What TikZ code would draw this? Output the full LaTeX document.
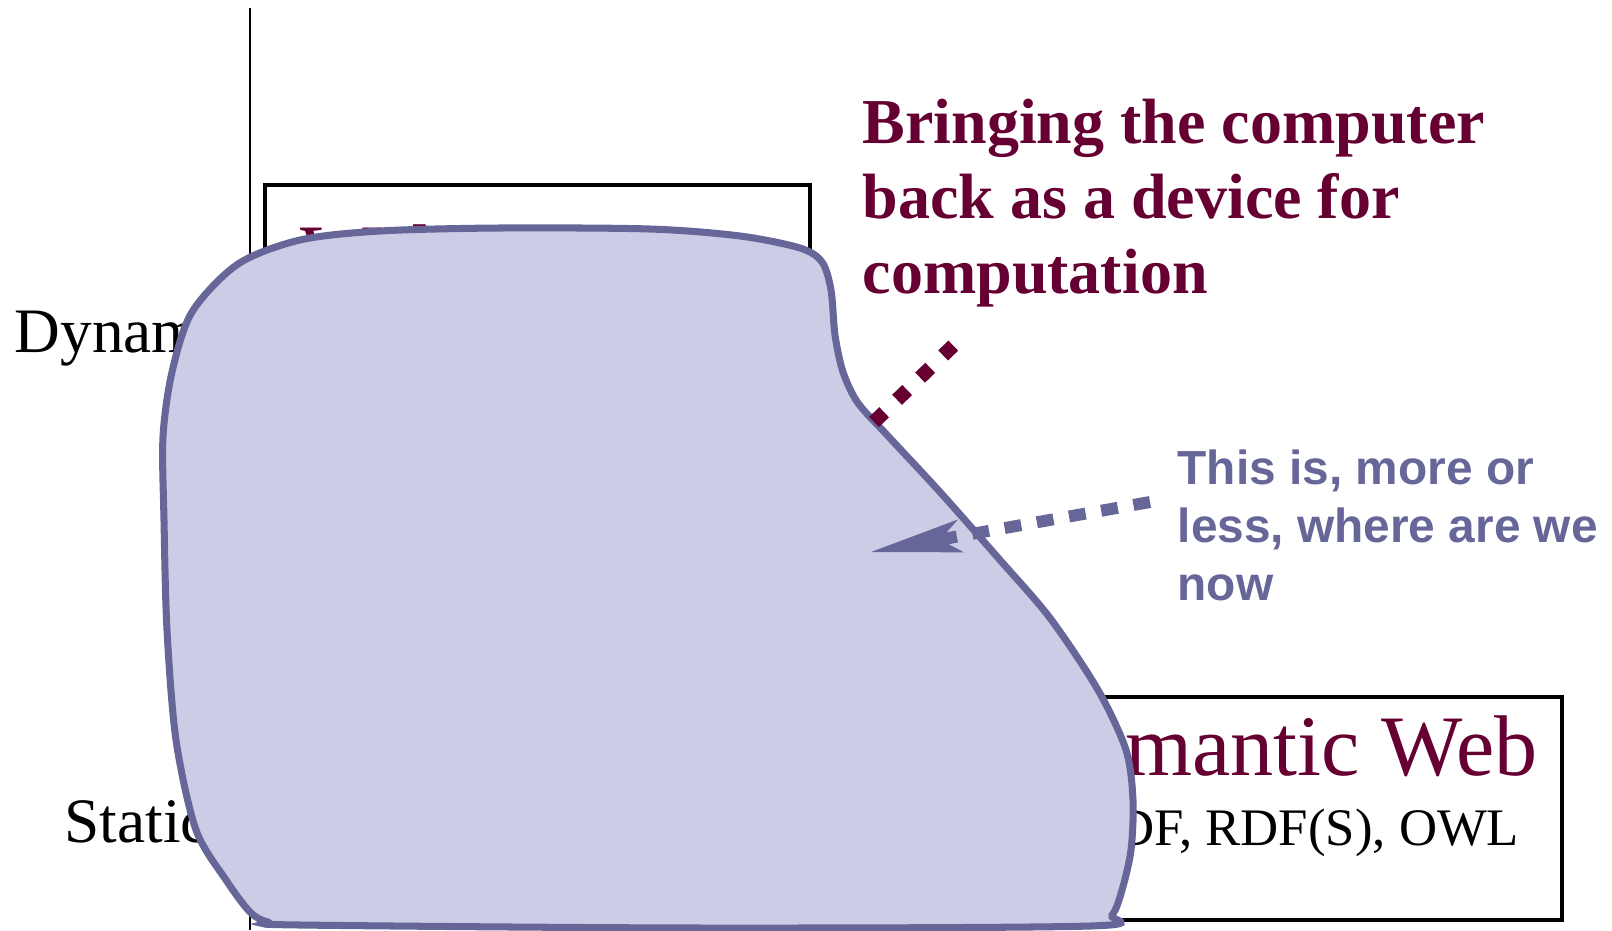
\documentclass[tikz,border=0pt]{standalone}
\usepackage{fontspec}
\setmainfont{Liberation Serif}
\setsansfont{Liberation Sans}
\usetikzlibrary{arrows.meta}

\definecolor{wine}{HTML}{660033}
\definecolor{slate}{HTML}{666699}
\definecolor{blobfill}{HTML}{CCCCE6}

\begin{document}
\begin{tikzpicture}[x=0.01cm,y=-0.01cm,
    every node/.style={inner sep=0pt},
    axislabel/.style={anchor=base west,font=\fontsize{18}{21}\selectfont},
    title/.style={text=wine,font=\fontsize{24.5}{28}\selectfont}]

    \useasboundingbox (0,0) rectangle (1612,930);

    \def\topbox{(265,185) rectangle (810,408)}
    \def\bottombox{(1008,697) rectangle (1562,920)}
    \def\blob{plot[smooth cycle,tension=0.5] coordinates {
        (164,520) (163,437) (172,372) (192,312) (238,264) (300,240)
        (380,231) (500,228) (650,229) (740,236) (800,248) (822,262)
        (831,290) (835,335) (843,372) (858,403) (888,436) (940,492)
        (1000,560) (1050,618) (1098,690) (1126,750) (1133,800)
        (1131,850) (1122,890) (1112,915) (1090,926) (700,928)
        (300,925) (268,922) (250,912) (226,880) (196,830) (176,740)
        (167,630)}}

    %draw axis:
    \draw[line width=0.6pt] (250,8) -- (250,930);
    \node[axislabel] (dyn) at (14,352) {Dynamic};
    \node[axislabel] (stat) at (64,842) {Static};

    %draw boxes:
    \draw[line width=1pt] \topbox;
    \node[title,anchor=base west] (ws) at (300,284) {Web Services};
    \draw[line width=1pt] \bottombox;
    \node[title,anchor=base east] (sw) at (1538,775) {Semantic Web};
    \node[anchor=base east,font=\fontsize{15}{18}\selectfont] (rdf) at (1520,845) {RDF, RDF(S), OWL};

    %draw blob:
    \filldraw[fill=blobfill,draw=slate,line width=2pt] \blob;

    %draw remarks (base is the last line):
    \node[anchor=base west,align=left,text=wine,
          font=\bfseries\fontsize{18.2}{21.2}\selectfont] (bring) at (862,293)
          {Bringing the computer\\back as a device for\\computation};
    \coordinate (edge) at (874,422);
    \coordinate (bringend) at (956,343);
    \draw[wine,line width=4pt,dash pattern=on 4pt off 5.1pt] (edge) -- (bringend);

    \node[anchor=base west,align=left,text=slate,
          font=\sffamily\bfseries\fontsize{13.6}{16.4}\selectfont] (here) at (1177,600)
          {This is, more or\\less, where are we\\now};
    \coordinate (herestart) at (1150,502);
    \coordinate (now) at (871,552);
    \draw[slate,line width=3.4pt,dash pattern=on 4.8pt off 4.5pt,
          -{Stealth[length=26pt,width=9.5pt,inset=6pt,line width=0pt]}] (herestart) -- (now);

\end{tikzpicture}
\end{document}
